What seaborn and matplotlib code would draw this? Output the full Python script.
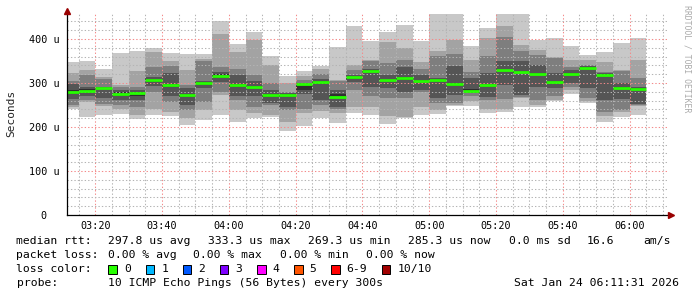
import matplotlib
matplotlib.use("Agg")
import matplotlib.pyplot as plt
import matplotlib.transforms as mtransforms
from matplotlib.patches import Rectangle
import seaborn as sns

# ---------------- data ----------------
# end time of each 5-minute sample (sample covers the preceding 5 minutes)
bar_end = ["03:15", "03:20", "03:25", "03:30", "03:35", "03:40", "03:45", "03:50",
           "03:55", "04:00", "04:05", "04:10", "04:15", "04:20", "04:25", "04:30",
           "04:35", "04:40", "04:45", "04:50", "04:55", "05:00", "05:05", "05:10",
           "05:15", "05:20", "05:25", "05:30", "05:35", "05:40", "05:45", "05:50",
           "05:55", "06:00", "06:05"]

# sorted ping round-trip times (microseconds), rank 1 (fastest) .. rank 10 (slowest)
p01 = [241, 223, 227, 229, 218, 227, 226, 205, 216, 227, 212, 221, 222, 192, 202, 221, 210, 233,
       227, 207, 220, 227, 230, 248, 248, 232, 235, 246, 245, 260, 275, 255, 212, 222, 227]
p02 = [246, 258, 247, 240, 227, 240, 235, 220, 239, 273, 239, 231, 228, 212, 231, 237, 231, 246,
       246, 225, 223, 246, 239, 250, 260, 242, 242, 265, 251, 261, 284, 260, 224, 235, 248]
p03 = [250, 262, 252, 250, 246, 280, 258, 239, 258, 280, 261, 246, 250, 238, 242, 250, 240, 284,
       270, 265, 265, 280, 254, 255, 270, 261, 263, 268, 261, 270, 290, 267, 235, 239, 250]
p04 = [263, 270, 267, 262, 261, 293, 270, 250, 288, 303, 270, 270, 255, 246, 276, 261, 246, 303,
       292, 288, 280, 284, 265, 273, 277, 269, 295, 273, 292, 288, 299, 288, 261, 263, 252]
p05 = [276, 281, 286, 271, 270, 302, 290, 268, 296, 312, 290, 288, 268, 268, 285, 298, 266, 310,
       325, 305, 308, 302, 305, 294, 280, 292, 327, 323, 318, 300, 318, 331, 316, 286, 284]
p06 = [284, 286, 290, 279, 279, 310, 298, 276, 302, 320, 298, 294, 276, 275, 296, 305, 275, 316,
       330, 310, 314, 308, 309, 300, 286, 298, 332, 327, 323, 305, 323, 336, 321, 291, 288]
p07 = [298, 291, 292, 284, 284, 314, 322, 288, 305, 325, 318, 305, 284, 277, 300, 310, 284, 318,
       332, 318, 337, 318, 312, 339, 311, 322, 351, 351, 341, 322, 330, 338, 322, 301, 290]
p08 = [304, 318, 310, 290, 290, 337, 338, 295, 350, 337, 331, 318, 299, 280, 307, 320, 305, 330,
       350, 345, 352, 331, 361, 367, 326, 361, 404, 373, 364, 358, 337, 341, 326, 328, 311]
p09 = [322, 330, 314, 295, 327, 371, 351, 330, 354, 411, 371, 398, 341, 300, 316, 333, 307, 341,
       352, 394, 379, 348, 373, 398, 352, 402, 429, 386, 375, 360, 352, 352, 348, 330, 352]
p10 = [347, 350, 331, 369, 373, 380, 369, 367, 366, 441, 389, 416, 361, 316, 327, 339, 382, 430,
       396, 417, 432, 396, 470, 470, 384, 424, 470, 470, 398, 402, 384, 364, 371, 390, 403]

median_rtt = [279.5, 283, 288.6, 275, 276.5, 306.8, 295.5, 272, 300, 316, 294.7, 291, 272, 272,
              298.5, 303, 269.3, 313.6, 327, 307.6, 311, 304.5, 307.6, 297, 283, 294.7, 329.5,
              325, 320.5, 302, 320.5, 333.3, 319, 288.6, 285.3]

x_tick_labels = ["03:20", "03:40", "04:00", "04:20", "04:40", "05:00", "05:20", "05:40", "06:00"]
y_tick_values = [0, 100, 200, 300, 400]
y_tick_labels = ["0", "100 u", "200 u", "300 u", "400 u"]

loss_labels = ["0", "1", "2", "3", "4", "5", "6-9", "10/10"]
loss_colors = ["#26ff00", "#00b8ff", "#0059ff", "#7e00ff", "#ff00ff", "#ff5500", "#ff0000", "#a10000"]

window_start = "03:11:31"
window_end = "06:11:31"

# ---------------- helpers ----------------
def to_min(s):
    parts = [int(p) for p in s.split(":")]
    m = parts[0] * 60 + parts[1]
    if len(parts) > 2:
        m += parts[2] / 60.0
    return m

W, H = 697, 297
sns.set_style("white")
plt.rcParams["font.family"] = ["DejaVu Sans Mono", "DejaVu Sans"]

fig = plt.figure(figsize=(W / 100, H / 100), dpi=100)
fig.patch.set_facecolor("white")

def fx(px):
    return px / W

def fy(py):
    return 1 - py / H

ax_left, ax_right, ax_bottom, ax_top = 67, 668, 215, 14.4
ax = fig.add_axes([fx(ax_left), fy(ax_bottom), fx(ax_right - ax_left), (ax_bottom - ax_top) / H])
ax.set_facecolor("white")

ends = [to_min(t) for t in bar_end]
starts = [e - 5 for e in ends]
ranks = [p01, p02, p03, p04, p05, p06, p07, p08, p09, p10]
shades = ["#2f2f2f", "#555555", "#7e7e7e", "#a3a3a3", "#c8c8c8"]

for j in range(9):
    lo = ranks[j]
    hi = ranks[j + 1]
    ax.bar(starts, [h - l for h, l in zip(hi, lo)], bottom=lo, width=5, align="edge",
           color=shades[abs(j - 4)], linewidth=0, zorder=1)

ax.hlines(median_rtt, starts, ends, colors=loss_colors[0], linewidth=2.0, zorder=3)

ax.set_xlim(to_min(window_start), to_min(window_end))
ax.set_ylim(0, 456)

# ticks / grid
xt = [to_min(t) for t in x_tick_labels]
ax.set_xticks(xt)
ax.set_xticklabels(x_tick_labels)
minor_x = [e for e in ends] + [to_min("06:10")]
ax.set_xticks(minor_x, minor=True)
ax.set_yticks(y_tick_values)
ax.set_yticklabels(y_tick_labels)
ax.set_yticks(list(range(20, 460, 20)), minor=True)

ax.set_axisbelow(False)
dot = (0, (1.3, 2.0))
ax.grid(which="minor", axis="both", color="#b4b4b4", linestyle=dot, linewidth=0.75, zorder=2)
ax.grid(which="major", axis="both", color="#f48a8a", linestyle=dot, linewidth=0.75, zorder=2)

ax.tick_params(axis="both", which="major", direction="out", length=2.5, width=0.72,
               color="black", labelsize=7.3, labelcolor="black")
ax.tick_params(axis="both", which="minor", direction="out", length=1.5, width=0.72, color="black")
ax.tick_params(axis="y", which="major", pad=3)
ax.tick_params(axis="x", which="major", pad=1.5)

for s in ["top", "right"]:
    ax.spines[s].set_visible(False)
for s in ["left", "bottom"]:
    ax.spines[s].set_color("black")
    ax.spines[s].set_linewidth(0.9)
    ax.spines[s].set_zorder(4)

# align the "0" label with the numbers of "100 u" etc.
for lab in ax.get_yticklabels():
    if lab.get_text() == "0":
        lab.set_transform(lab.get_transform() +
                          mtransforms.ScaledTranslation(-12.4 / 100, 0, fig.dpi_scale_trans))

# axis arrows
arrow_c = "#990000"
ax.plot([0], [1.0 + (ax_top - 10.5) / (ax_bottom - ax_top)], marker="^", markersize=4.5,
        color=arrow_c, transform=ax.transAxes, clip_on=False, zorder=5)
ax.plot([1.0 + 2.5 / (ax_right - ax_left)], [0], marker=">", markersize=4.5,
        color=arrow_c, transform=ax.transAxes, clip_on=False, zorder=5)

# y axis title
fig.text(fx(11), fy(113.5), "Seconds", rotation=90, ha="center", va="center", fontsize=8)

# watermark
fig.text(fx(687), fy(59), "RRDTOOL / TOBI OETIKER", rotation=270, ha="center", va="center",
         fontsize=5.9, color="#aaaaaa")

# legend / statistics
fs = 8.2
row1 = [(16.5, "median rtt:"), (107.8, "297.8 us avg"), (208, "333.3 us max"),
        (308, "269.3 us min"), (408.5, "285.3 us now"), (509, "0.0 ms sd"),
        (587, "16.6"), (643.6, "am/s")]
row2 = [(16.5, "packet loss:"), (107.8, "0.00 % avg"), (193.3, "0.00 % max"),
        (279.7, "0.00 % min"), (366, "0.00 % now")]
row4 = [(16.5, "probe:"), (107.8, "10 ICMP Echo Pings (56 Bytes) every 300s"),
        (514.5, "Sat Jan 24 06:11:31 2026")]
for y, row in [(241, row1), (255, row2), (283, row4)]:
    for x, t in row:
        fig.text(fx(x), fy(y), t, ha="left", va="center", fontsize=fs, color="black")

fig.text(fx(16.5), fy(269), "loss color:", ha="left", va="center", fontsize=fs, color="black")
box_x = [108.2, 145.7, 182.6, 220, 257, 294, 331, 381.7]
for bx, lab, col in zip(box_x, loss_labels, loss_colors):
    fig.patches.append(Rectangle((fx(bx), fy(273.5)), fx(8.5), 8.5 / H, facecolor=col,
                                 edgecolor="black", linewidth=0.7, transform=fig.transFigure,
                                 figure=fig))
    fig.text(fx(bx + 15.6), fy(269), lab, ha="left", va="center", fontsize=fs, color="black")

fig.savefig("out.png", dpi=100, facecolor="white")
